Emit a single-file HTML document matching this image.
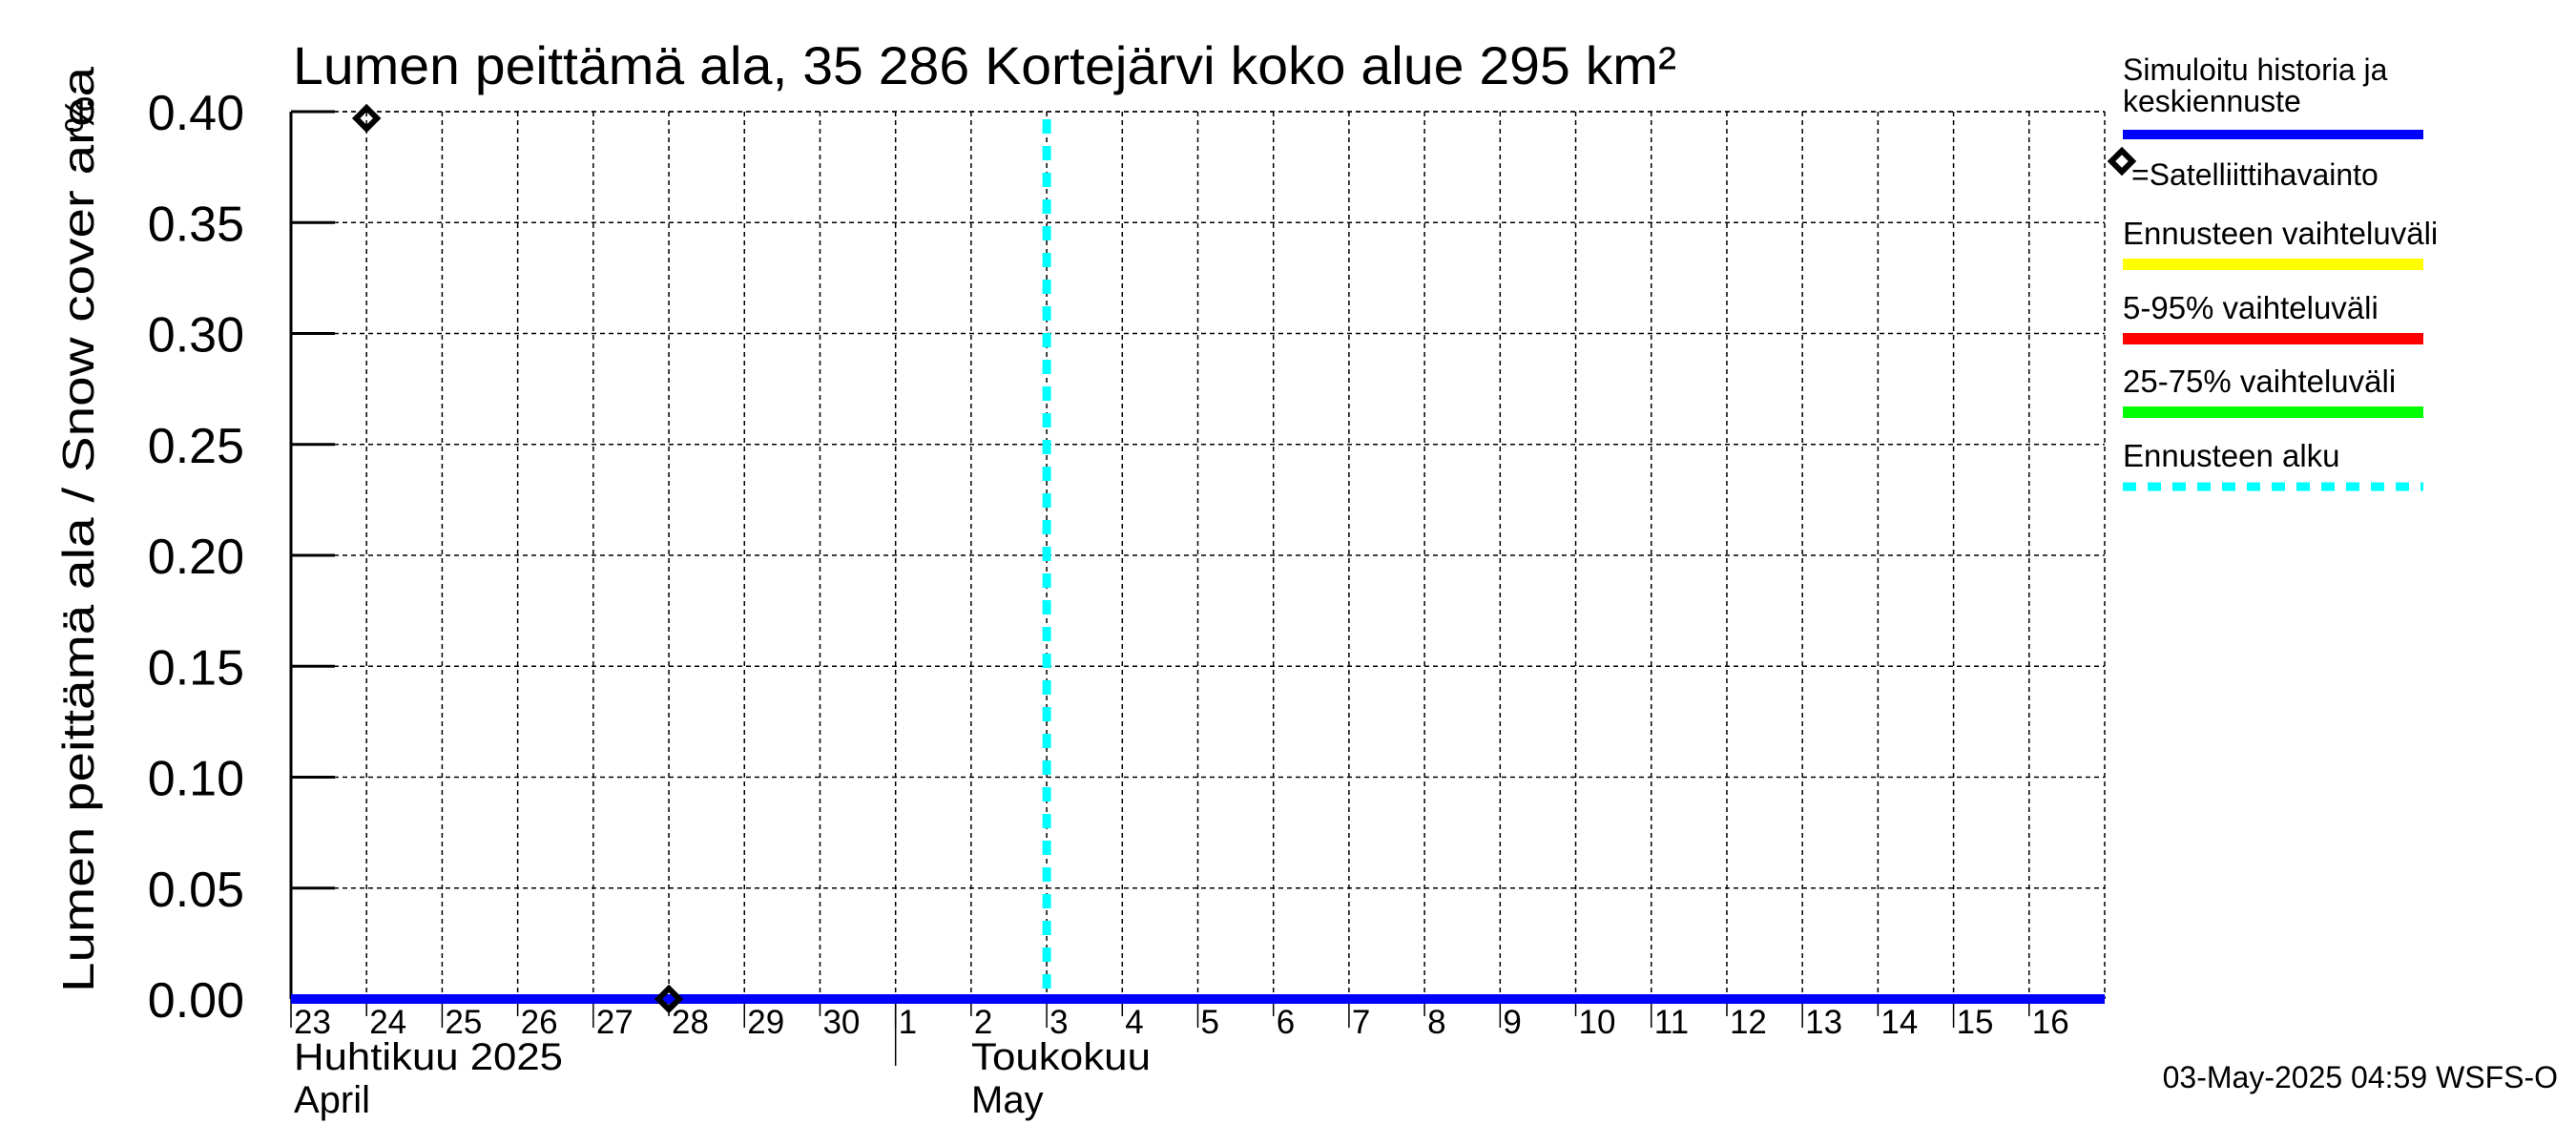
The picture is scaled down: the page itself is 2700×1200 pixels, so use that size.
<!DOCTYPE html>
<html><head><meta charset="utf-8"><style>
html,body{margin:0;padding:0;background:#fff;}
svg{display:block;font-family:"Liberation Sans",Arial,sans-serif;}
</style></head><body>
<svg id="chart" width="2700" height="1200" viewBox="0 0 2700 1200" xmlns="http://www.w3.org/2000/svg">
<rect width="2700" height="1200" fill="#fff"/>
<text x="307" y="88" font-size="56" textLength="1450" lengthAdjust="spacingAndGlyphs">Lumen peittämä ala, 35 286 Kortejärvi koko alue 295 km²</text>
<text transform="translate(98,555) rotate(-90)" text-anchor="middle" font-size="46" textLength="970" lengthAdjust="spacingAndGlyphs">Lumen peittämä ala / Snow cover area</text>
<text transform="translate(98,120) rotate(-90)" text-anchor="middle" font-size="44">%</text>
<g id="grid"></g>
<g id="axes"></g>
<g id="series"></g>
<g id="legend">
 <text x="2225" y="84" font-size="32">Simuloitu historia ja</text>
 <text x="2225" y="117" font-size="32">keskiennuste</text>
 <rect x="2225" y="136" width="315" height="10" fill="#0000ff"/>
 <path d="M2224 158 L2235 169 L2224 180 L2213 169 Z" fill="#fff" stroke="#000" stroke-width="6"/>
 <text x="2234" y="194" font-size="32">=Satelliittihavainto</text>
 <text x="2225" y="256" font-size="33">Ennusteen vaihteluväli</text>
 <rect x="2225" y="271" width="315" height="12" fill="#ffff00"/>
 <text x="2225" y="334" font-size="33">5-95% vaihteluväli</text>
 <rect x="2225" y="349" width="315" height="12" fill="#ff0000"/>
 <text x="2225" y="411" font-size="33">25-75% vaihteluväli</text>
 <rect x="2225" y="426" width="315" height="12" fill="#00ff00"/>
 <text x="2225" y="489" font-size="33">Ennusteen alku</text>
 <line x1="2225" y1="510" x2="2540" y2="510" stroke="#00ffff" stroke-width="9" stroke-dasharray="14 12"/>
</g>
<text x="2681" y="1140" font-size="32" text-anchor="end">03-May-2025 04:59 WSFS-O</text>
</svg>
<script>
const dayLabels = ["23","24","25","26","27","28","29","30","1","2","3","4","5","6","7","8","9","10","11","12","13","14","15","16"];
const yTicks = [0,0.05,0.10,0.15,0.20,0.25,0.30,0.35,0.40];
const yTickLabels = ["0.00","0.05","0.10","0.15","0.20","0.25","0.30","0.35","0.40"];
const simDays = [0,24];
const simValues = [0,0];
const satDays = [1,5];
const satValues = [0.397,0];
const forecastDay = 10.0;
const monthBoundaryDay = 8;

const L=305,R=2206,T=117,B=1047,NDAYS=24,YMAX=0.40;
const NS="http://www.w3.org/2000/svg";
const xs=d=>L+(R-L)*d/NDAYS;
const ys=v=>B-(B-T)*v/YMAX;
function mk(tag,attrs,parent){const e=document.createElementNS(NS,tag);for(const k in attrs)e.setAttribute(k,attrs[k]);parent.appendChild(e);return e;}
const grid=document.getElementById('grid'),axes=document.getElementById('axes'),series=document.getElementById('series');

yTicks.forEach((v,i)=>{
  if(v>0){const g=mk('line',{x1:L,x2:R,y1:ys(v),y2:ys(v),stroke:'#000','stroke-width':1.5,'stroke-dasharray':'5 4'},grid);
  
  }
  const t=mk('line',{x1:L,x2:L+46,y1:ys(v),y2:ys(v),stroke:'#000','stroke-width':3},axes);
  
  
  const lb=mk('text',{x:256,y:ys(v)+19,'font-size':52,'text-anchor':'end'},axes);
  lb.textContent=yTickLabels[i];
  
  
});
dayLabels.forEach((lab,i)=>{
  const x=xs(i);
  if(i>0){const g=mk('line',{x1:x,x2:x,y1:T,y2:B,stroke:'#000','stroke-width':1.5,'stroke-dasharray':'5 4'},grid);
  
  }
  const tk=mk('line',{x1:x,x2:x,y1:B,y2:B+(i%2===0?30:18),stroke:'#000','stroke-width':1.5},axes);
  
  
  const t=mk('text',{x:x+3,y:1083,'font-size':35},axes);
  t.textContent=lab;
  
  
});
const rg=mk('line',{x1:R,x2:R,y1:T,y2:B,stroke:'#000','stroke-width':1.5,'stroke-dasharray':'5 4'},grid);


const tg=mk('line',{x1:L,x2:R,y1:T,y2:T,stroke:'#000','stroke-width':1.5,'stroke-dasharray':'5 4'},grid);


const ya=mk('line',{x1:L,x2:L,y1:T,y2:B,stroke:'#000','stroke-width':3},axes);


const mb=mk('line',{x1:xs(monthBoundaryDay),x2:xs(monthBoundaryDay),y1:B,y2:1117,stroke:'#000','stroke-width':1.5},axes);


[["Huhtikuu  2025",308,1121,282],["April",308,1166,0],["Toukokuu",1018,1121,188],["May",1018,1166,0]].forEach(m=>{
  const a={x:m[1],y:m[2],'font-size':40,'xml:space':'preserve'};
  if(m[3]){a.textLength=m[3];a.lengthAdjust='spacingAndGlyphs';}
  const t=mk('text',a,axes);
  t.textContent=m[0];
  
  
});
const fc=mk('line',{x1:xs(forecastDay),x2:xs(forecastDay),y1:T+8,y2:B,stroke:'#00ffff','stroke-width':9,'stroke-dasharray':'15 13'},series);


const sim=mk('polyline',{points:simDays.map((d,i)=>xs(d)+','+ys(simValues[i])).join(' '),fill:'none',stroke:'#0000ff','stroke-width':10},series);


satDays.forEach((d,i)=>{
  const x=xs(d),y=ys(satValues[i]);
  const p=mk('path',{d:`M${x} ${y-11} L${x+11} ${y} L${x} ${y+11} L${x-11} ${y} Z`,fill:'none',stroke:'#000','stroke-width':6},series);
  
  
});
</script>
</body></html>
